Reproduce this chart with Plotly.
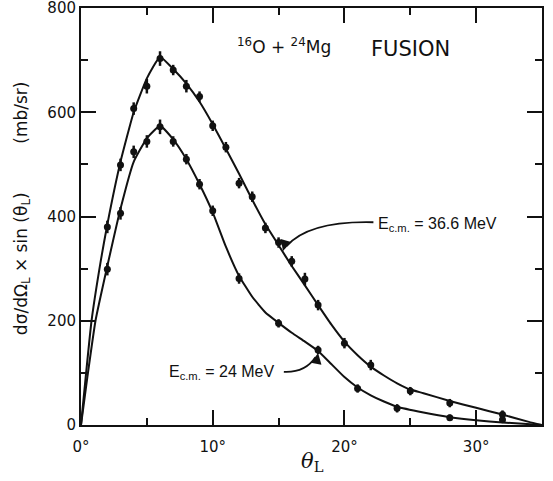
import plotly.graph_objects as go

# ---- data ----
# measured points, E_cm = 36.6 MeV
theta_hi = [2, 3, 4, 5, 6, 7, 8, 9, 10, 11, 12, 13, 14, 15, 16, 17, 18, 20, 22, 25, 28, 32]
sigma_hi = [380, 499, 607, 650, 703, 681, 650, 630, 574, 533, 464, 438, 378, 350, 314, 280, 230, 157, 115, 65, 42, 20]
err_hi = [12, 12, 12, 14, 14, 10, 12, 10, 10, 10, 10, 10, 10, 10, 10, 12, 10, 10, 10, 8, 8, 8]

# measured points, E_cm = 24 MeV
theta_lo = [2, 3, 4, 5, 6, 7, 8, 9, 10, 12, 15, 18, 21, 24, 28, 32]
sigma_lo = [299, 406, 524, 544, 572, 544, 510, 462, 411, 281, 195, 144, 70, 32, 14, 10]
err_lo = [12, 12, 12, 12, 14, 10, 10, 10, 10, 10, 8, 8, 8, 8, 6, 6]

# calculated curves
curve_theta_hi = [0, 0.8, 1.5, 2, 3, 4, 5, 6, 7, 8, 9, 10, 11, 12, 13, 14, 15, 16, 17, 18, 19, 20,
                  21, 22, 23, 24, 25, 26, 28, 30, 32, 34, 35]
curve_hi = [0, 200, 315, 385, 505, 600, 665, 706, 683, 655, 620, 577, 530, 482, 432, 385, 345, 305,
            268, 230, 193, 160, 134, 112, 95, 80, 68, 61, 46, 33, 20, 6, 0]

curve_theta_lo = [0, 0.5, 1.1, 2, 3, 4, 5, 6, 7, 8, 9, 10, 11, 12, 13, 14, 15, 16, 17, 18, 19, 20,
                  21, 22, 23, 24, 26, 28, 30, 32, 35]
curve_lo = [0, 95, 200, 305, 415, 505, 550, 574, 548, 510, 462, 408, 342, 286, 246, 216, 196, 177,
            160, 142, 117, 92, 72, 57, 45, 35, 24, 15, 9, 5, 0]

x_tickvals = [0, 10, 20, 30]
x_ticktext = ["0°", "10°", "20°", "30°"]
y_tickvals = [0, 200, 400, 600, 800]
y_ticktext = ["0", "200", "400", "600", "800"]

BLACK = "#111111"

fig = go.Figure()

for cx, cy in [(curve_theta_hi, curve_hi), (curve_theta_lo, curve_lo)]:
    fig.add_trace(go.Scatter(x=cx, y=cy, mode="lines",
                             line=dict(color=BLACK, width=2, shape="spline", smoothing=0.4),
                             hoverinfo="skip", showlegend=False))

for px_, py_, pe in [(theta_hi, sigma_hi, err_hi), (theta_lo, sigma_lo, err_lo)]:
    fig.add_trace(go.Scatter(x=px_, y=py_, mode="markers",
                             marker=dict(color=BLACK, size=7, symbol="circle"),
                             error_y=dict(type="data", array=pe, visible=True, color=BLACK,
                                          thickness=2.5, width=0),
                             showlegend=False))

# curved arrows (label -> curve)
fig.add_shape(type="path", path="M 22.2,389 Q 17.3,392 15.6,343",
              line=dict(color=BLACK, width=1.8), xref="x", yref="y")
fig.add_shape(type="path", path="M 15.4,102 Q 17.0,100 17.8,130",
              line=dict(color=BLACK, width=1.8), xref="x", yref="y")

annos = [
    dict(x=15.34, y=334, ax=3, ay=-11, text="", showarrow=True, arrowhead=2, arrowsize=1.2,
         arrowwidth=1.8, arrowcolor=BLACK, standoff=0, xref="x", yref="y"),
    dict(x=18.0, y=138, ax=-2, ay=11, text="", showarrow=True, arrowhead=2, arrowsize=1.2,
         arrowwidth=1.8, arrowcolor=BLACK, standoff=0, xref="x", yref="y"),
    dict(x=22.4, y=385, text="E<sub>c.m.</sub> = 36.6 MeV", showarrow=False, xanchor="left",
         yanchor="middle", font=dict(family="Liberation Sans", size=16, color=BLACK)),
    dict(x=6.5, y=100, text="E<sub>c.m.</sub> = 24 MeV", showarrow=False, xanchor="left",
         yanchor="middle", font=dict(family="Liberation Sans", size=16, color=BLACK)),
    dict(x=15.4, y=728, text="<sup>16</sup>O + <sup>24</sup>Mg", showarrow=False,
         xanchor="center", yanchor="middle", font=dict(family="DejaVu Sans", size=17, color=BLACK)),
    dict(x=25.0, y=722, text="FUSION", showarrow=False,
         xanchor="center", yanchor="middle", font=dict(family="DejaVu Sans", size=21, color=BLACK)),
    dict(xref="paper", yref="paper", x=-0.128, y=0.52,
         text="dσ/dΩ<sub>L</sub> × sin (θ<sub>L</sub>)" + "\u00a0" * 9 + "(mb/sr)",
         textangle=-90, showarrow=False, xanchor="center", yanchor="middle",
         font=dict(family="DejaVu Sans", size=17, color=BLACK)),
    dict(xref="x", yref="paper", x=17.6, y=-0.088, text="<i>θ</i><sub>L</sub>", showarrow=False,
         xanchor="center", yanchor="middle", font=dict(family="DejaVu Serif", size=21, color=BLACK)),
]
fig.update_layout(annotations=annos)

fig.update_xaxes(range=[0, 35], tickvals=x_tickvals, ticktext=x_ticktext, automargin=False,
                 ticklabeloverflow="allow", ticklabelstandoff=7,
                 ticks="inside", ticklen=15, tickwidth=2, tickcolor=BLACK,
                 minor=dict(dtick=5, ticks="inside", ticklen=7, tickwidth=2, tickcolor=BLACK),
                 showline=True, linewidth=2, linecolor=BLACK, mirror="allticks",
                 showgrid=False, zeroline=False,
                 tickfont=dict(family="DejaVu Sans", size=15, color=BLACK))
fig.update_yaxes(range=[0, 800], tickvals=y_tickvals, ticktext=y_ticktext, automargin=False,
                 ticklabeloverflow="allow",
                 ticks="inside", ticklen=15, tickwidth=2, tickcolor=BLACK,
                 minor=dict(dtick=100, ticks="inside", ticklen=7, tickwidth=2, tickcolor=BLACK),
                 showline=True, linewidth=2, linecolor=BLACK, mirror="allticks",
                 showgrid=False, zeroline=False,
                 tickfont=dict(family="DejaVu Sans", size=15, color=BLACK))

fig.update_layout(width=553, height=481, margin=dict(l=81, r=11, t=8, b=56),
                  paper_bgcolor="white", plot_bgcolor="white", showlegend=False)

fig.write_html("out.html", config={"displayModeBar": False},
               post_script="document.body.style.margin='0';document.body.style.padding='0';")
